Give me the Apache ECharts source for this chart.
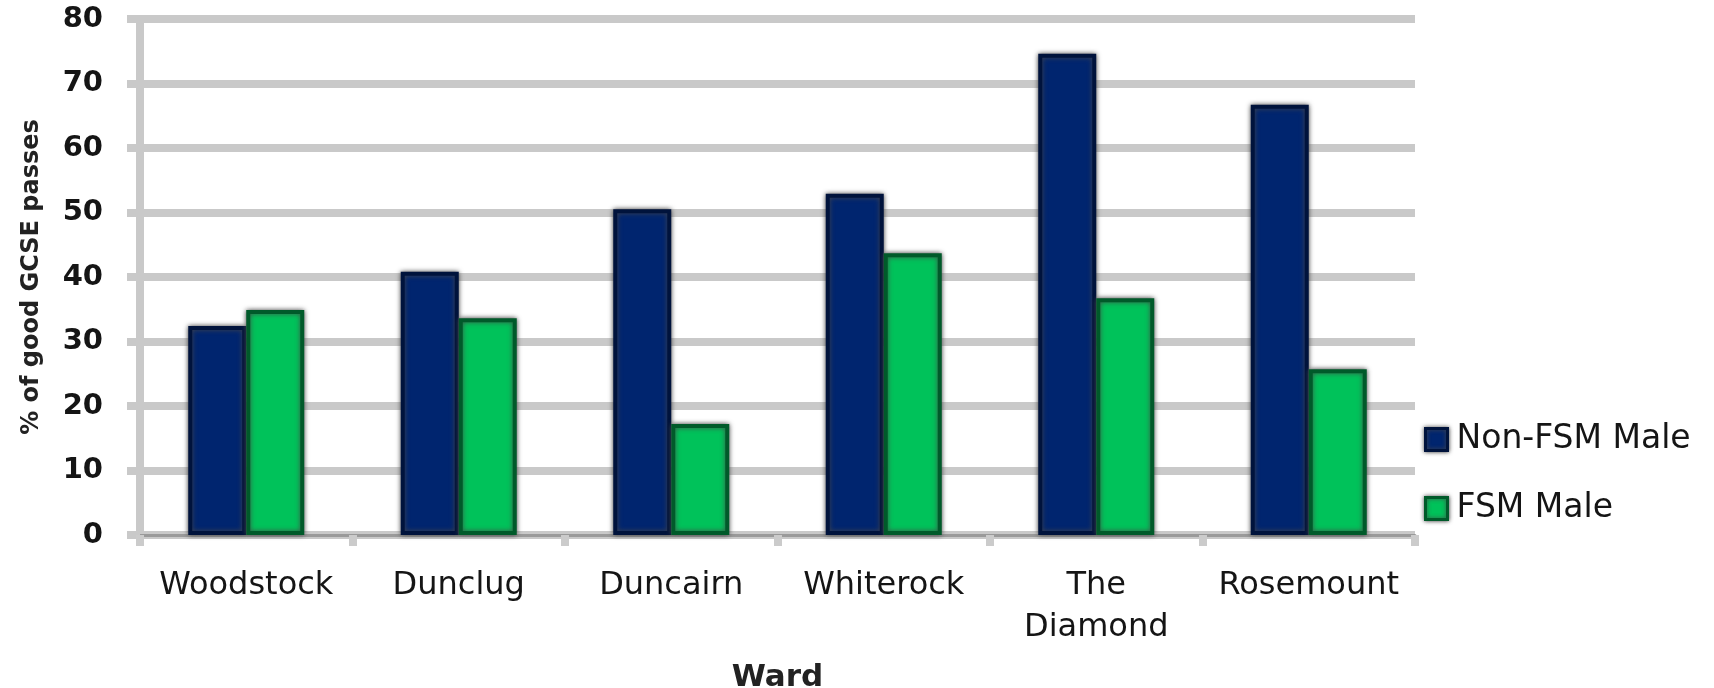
<!DOCTYPE html>
<html>
<head>
<meta charset="utf-8">
<title>% of good GCSE passes by ward</title>
<script src="https://cdn.jsdelivr.net/npm/echarts@6/dist/echarts.min.js"></script>
<style>
  html, body { margin: 0; padding: 0; background: #ffffff; }
  #chart { width: 1714px; height: 688px; }
</style>
</head>
<body>
<div id="chart"></div>
<script>
// Wards along the x axis
const wards = ['Woodstock', 'Dunclug', 'Duncairn', 'Whiterock', 'The\nDiamond', 'Rosemount'];
// % of good GCSE passes, boys not on free school meals
const nonFsmMale = [32.4, 40.8, 50.5, 52.9, 74.6, 66.7];
// % of good GCSE passes, boys on free school meals
const fsmMale = [34.9, 33.6, 17.2, 43.7, 36.7, 25.7];
// Value axis ticks
const yTicks = [0, 10, 20, 30, 40, 50, 60, 70, 80];

const FONT = 'DejaVu Sans';
const GRID = '#c9c9c9';

const chart = echarts.init(document.getElementById('chart'), null, { renderer: 'canvas' });

function barStyle(fill, edge) {
  return {
    color: fill,
    borderColor: edge,
    borderWidth: 4,
    shadowColor: 'rgba(70,70,70,0.95)',
    shadowBlur: 5
  };
}

chart.setOption({
  animation: false,
  backgroundColor: '#ffffff',
  grid: { left: 140, right: 299, top: 19, bottom: 153, containLabel: false, outerBoundsMode: 'none' },
  legend: {
    orient: 'vertical',
    left: 1419,
    top: 416,
    itemWidth: 22,
    itemHeight: 22,
    itemGap: 32,
    icon: 'rect',
    textStyle: { fontFamily: FONT, fontSize: 33, color: '#151515', lineHeight: 37, padding: [0, 0, 0, 4] },
    data: [
      { name: 'Non-FSM Male', itemStyle: { color: '#00256f', borderColor: '#00133c', borderWidth: 3, shadowColor: 'rgba(70,70,70,0.9)', shadowBlur: 4 } },
      { name: 'FSM Male', itemStyle: { color: '#00c25a', borderColor: '#005a2a', borderWidth: 3, shadowColor: 'rgba(70,70,70,0.9)', shadowBlur: 4 } }
    ]
  },
  xAxis: {
    type: 'category',
    data: wards,
    name: 'Ward',
    nameLocation: 'middle',
    nameGap: 127,
    nameTextStyle: { fontFamily: FONT, fontSize: 31, fontWeight: 'bold', color: '#222222' },
    axisLine: { show: true, lineStyle: { color: '#9a9a9a', width: 3 } },
    axisTick: { show: true, length: 11, lineStyle: { color: '#cbcbcb', width: 8 } },
    axisLabel: {
      fontFamily: FONT, fontSize: 32, color: '#151515',
      lineHeight: 42, margin: 30, interval: 0
    },
    splitLine: { show: false }
  },
  yAxis: {
    type: 'value',
    min: 0,
    max: 80,
    interval: 10,
    name: '% of good GCSE passes',
    nameLocation: 'middle',
    nameGap: 96,
    nameRotate: 90,
    nameTextStyle: { fontFamily: FONT, fontSize: 24, fontWeight: 'bold', color: '#222222' },
    axisLine: { show: true, lineStyle: { color: GRID, width: 8 } },
    axisTick: { show: true, length: 13, lineStyle: { color: GRID, width: 8 } },
    axisLabel: {
      fontFamily: FONT, fontSize: 29, fontWeight: 'bold', color: '#151515', margin: 37,
      formatter: v => (yTicks.indexOf(v) >= 0 ? String(v) : '')
    },
    splitLine: { show: true, lineStyle: { color: GRID, width: 8 } }
  },
  series: [
    {
      name: 'Non-FSM Male',
      type: 'bar',
      data: nonFsmMale,
      barWidth: 58,
      barGap: '0%',
      itemStyle: barStyle('#00256f', '#00133c')
    },
    {
      name: 'FSM Male',
      type: 'bar',
      data: fsmMale,
      barWidth: 58,
      barGap: '0%',
      itemStyle: barStyle('#00c25a', '#005a2a')
    }
  ]
});
</script>
</body>
</html>
